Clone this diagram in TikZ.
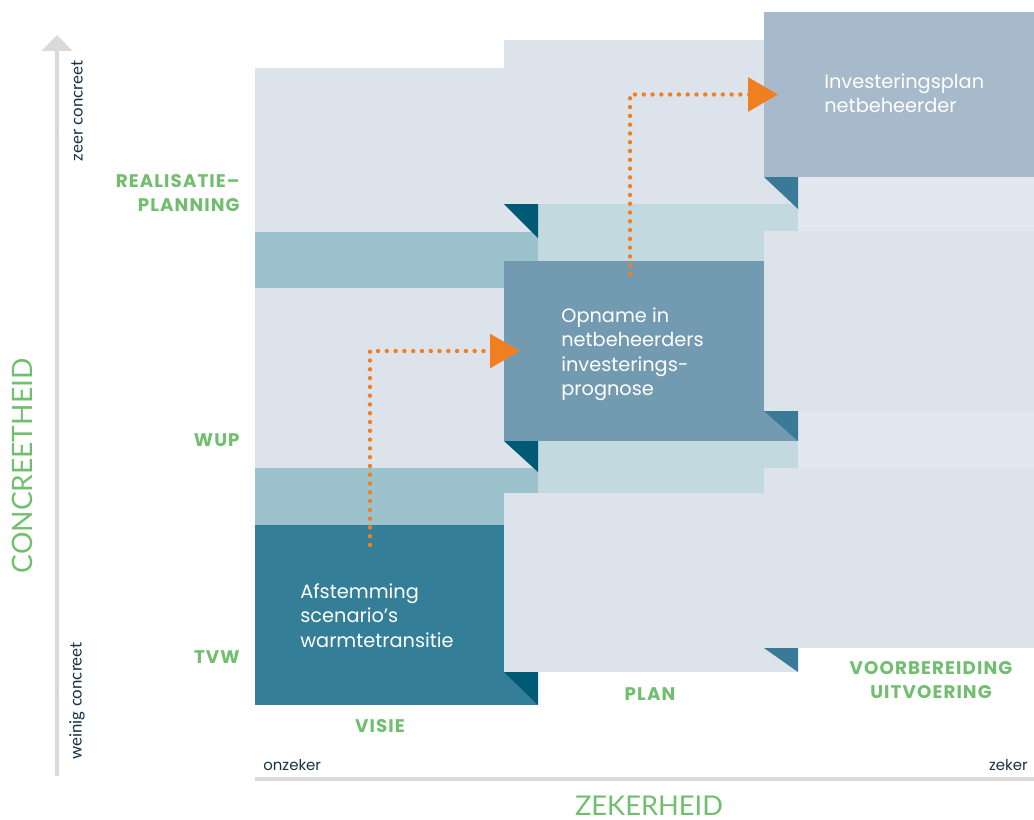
\documentclass[tikz,border=0pt]{standalone}
\usepackage{fontspec}
\setmainfont{Poppins}
\newfontfamily\latofont{Lato}
\newfontfamily\phasefont[LetterSpace=6]{Poppins}
\usepackage{tikz}
\usetikzlibrary{positioning,fit,arrows.meta}

\definecolor{cardgrey}{HTML}{DCE3EB}
\definecolor{bandone}{HTML}{9CC3CD}
\definecolor{bandtwo}{HTML}{C2D9E0}
\definecolor{bandthree}{HTML}{E3E8F0}
\definecolor{visieblue}{HTML}{347E98}
\definecolor{opnameblue}{HTML}{729BB2}
\definecolor{investblue}{HTML}{A6BACB}
\definecolor{folddark}{HTML}{005A75}
\definecolor{foldmid}{HTML}{3A7A96}
\definecolor{labelgreen}{HTML}{72BE6F}
\definecolor{axisnavy}{HTML}{163247}
\definecolor{routeorange}{HTML}{F07F22}
\definecolor{axisgrey}{HTML}{DADADA}

\begin{document}
\begin{tikzpicture}[x=0.02cm,y=-0.02cm,
    card/.style={inner sep=0pt,outer sep=0pt},
    cardtext/.style={text=white,align=left,anchor=north west,inner sep=0pt,font=\fontsize{11}{14}\selectfont},
    phase/.style={text=labelgreen,inner sep=0pt,font=\phasefont\fontsize{10.4}{14}\selectfont\bfseries},
    axis/.style={draw=axisgrey,line width=2.3pt},
    route/.style={draw=routeorange,line width=2.5pt,line cap=round,dash pattern=on 0pt off 5pt,
      -{Triangle[length=17pt,width=19pt,fill=routeorange,line cap=butt]}}]

    \useasboundingbox (0,0) rectangle (1034,819);

    \node [card,fill=cardgrey,fit={(255,68) (538,232)}] (v1) {};
    \fill [bandone] (255,232) rectangle (538,288);
    \node [card,fill=cardgrey,fit={(255,288) (538,468)}] (v2) {};
    \fill [bandone] (255,468) rectangle (538,525);
    \node [card,fill=visieblue,fit={(255,525) (538,705)}] (v3) {};

    \fill [bandtwo] (538,204) rectangle (798,261);
    \node [card,fill=cardgrey,fit={(504,40) (798,204)}] (p1) {};
    \node [card,fill=opnameblue,fit={(504,261) (798,441)}] (p2) {};
    \fill [bandtwo] (538,441) rectangle (798,493);
    \node [card,fill=cardgrey,fit={(504,493) (798,672)}] (p3) {};

    \fill [bandthree] (798,177) rectangle (1034,231);
    \node [card,fill=investblue,fit={(764,12) (1034,177)}] (u1) {};
    \node [card,fill=cardgrey,fit={(764,231) (1034,411)}] (u2) {};
    \fill [bandthree] (798,411) rectangle (1034,468);
    \node [card,fill=cardgrey,fit={(764,468) (1034,648)}] (u3) {};

    \fill [folddark] (p1.south west) -- ++(34,0) -- ++(0,34) -- cycle;
    \fill [folddark] (p2.south west) -- ++(34,0) -- ++(0,31) -- cycle;
    \fill [folddark] (p3.south west) -- ++(34,0) -- ++(0,33) -- cycle;
    \fill [foldmid] (u1.south west) -- ++(34,0) -- ++(0,32) -- cycle;
    \fill [foldmid] (u2.south west) -- ++(34,0) -- ++(0,30) -- cycle;
    \fill [foldmid] (u3.south west) -- ++(34,0) -- ++(0,24) -- cycle;

    \node [cardtext] (t1) at (300,583) {Afstemming\\scenario’s\\warmtetransitie};
    \node [cardtext] (t2) at (561,307) {Opname in\\netbeheerders\\investerings-\\prognose};
    \node [cardtext] (t3) at (824,73) {Investeringsplan\\netbeheerder};

    \coordinate (r1) at (370,545);
    \coordinate (r2) at (630,274);
    \draw [route] (r1) |- ([xshift=0.32cm]p2.west);
    \draw [route] (r2) |- ([xshift=0.28cm]u1.west);

    \node [phase,anchor=north east,align=right] (l1) at (240,174) {REALISATIE–\\PLANNING};
    \node [phase,anchor=east] (l2) at (240,440) {WUP};
    \node [phase,anchor=east] (l3) at (240,657) {TVW};
    \node [phase] (c1) at (380,726) {VISIE};
    \node [phase] (c2) at (650,694) {PLAN};
    \node [phase,align=center] (c3) at (931,680) {VOORBEREIDING\\UITVOERING};

    \coordinate (ybase) at (57,776);
    \coordinate (ytip) at (57,35);
    \draw [axis,-{Triangle[length=9pt,width=17pt,fill=axisgrey]}] (ybase) -- (ytip);
    \coordinate (xstart) at (255,779);
    \coordinate (xend) at (1034,779);
    \draw [axis] (xstart) -- (xend);

    \node [rotate=90,text=labelgreen,font=\latofont\fontsize{16}{16}\selectfont] (yname) at (22,466) {CONCREETHEID};
    \node [rotate=90,text=axisnavy,font=\latofont\fontsize{9.6}{9.6}\selectfont] (ytop) at (77,111) {zeer concreet};
    \node [rotate=90,text=axisnavy,font=\latofont\fontsize{9.6}{9.6}\selectfont] (ybot) at (77,701) {weinig concreet};
    \node [anchor=west,inner sep=0pt,text=axisnavy,font=\fontsize{8.5}{8.5}\selectfont] (xlow) at (263,765) {onzeker};
    \node [anchor=east,inner sep=0pt,text=axisnavy,font=\fontsize{8.5}{8.5}\selectfont] (xhigh) at (1028,765) {zeker};
    \node [text=labelgreen,font=\latofont\fontsize{15.5}{16}\selectfont] (xname) at (649,806) {ZEKERHEID};
\end{tikzpicture}
\end{document}
